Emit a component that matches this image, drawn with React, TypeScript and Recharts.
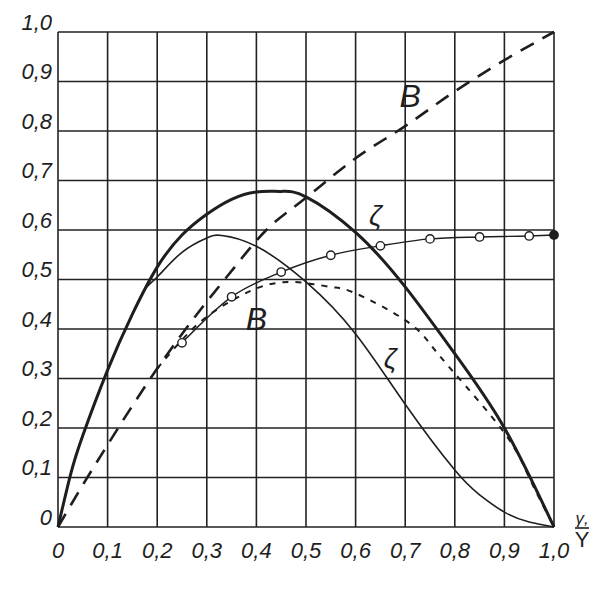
import React from 'react';
import {
    ComposedChart,
    Line,
    XAxis,
    YAxis,
    CartesianGrid,
    ReferenceDot,
} from 'recharts';

// x positions r/Y and values
const ticks = [0, 0.1, 0.2, 0.3, 0.4, 0.5, 0.6, 0.7, 0.8, 0.9, 1.0];

const thickX = [0, 0.025, 0.05, 0.1, 0.15, 0.2, 0.25, 0.3, 0.35, 0.4, 0.45, 0.5, 0.6, 0.7, 0.8, 0.9, 1.0];
const thickY = [0, 0.105, 0.185, 0.317, 0.43, 0.525, 0.59, 0.632, 0.662, 0.677, 0.678, 0.667, 0.595, 0.485, 0.35, 0.2, 0];

const thinX = [0, 0.025, 0.05, 0.1, 0.15, 0.175, 0.2, 0.25, 0.3, 0.33, 0.4, 0.5, 0.6, 0.7, 0.8, 0.85, 0.9, 0.95, 1.0];
const thinY = [0, 0.105, 0.185, 0.317, 0.43, 0.48, 0.505, 0.555, 0.584, 0.589, 0.567, 0.495, 0.39, 0.248, 0.115, 0.065, 0.03, 0.01, 0];

const bX = [0, 0.05, 0.1, 0.15, 0.2, 0.25, 0.34, 0.42, 0.5, 0.6, 0.7, 0.8, 0.9, 1.0];
const bY = [0, 0.085, 0.166, 0.245, 0.32, 0.39, 0.505, 0.6, 0.665, 0.745, 0.81, 0.88, 0.943, 1.0];

const bLowX = [0.2, 0.25, 0.3, 0.35, 0.4, 0.47, 0.55, 0.6, 0.7, 0.75, 0.8, 0.9, 0.95, 1.0];
const bLowY = [0.32, 0.378, 0.425, 0.457, 0.482, 0.495, 0.485, 0.472, 0.418, 0.37, 0.31, 0.19, 0.1, 0];

const zetaX = [0.25, 0.35, 0.45, 0.55, 0.65, 0.75, 0.85, 0.95, 1.0];
const zetaY = [0.372, 0.465, 0.515, 0.549, 0.568, 0.582, 0.586, 0.588, 0.59];

const toRows = (xs: number[], ys: number[]) => xs.map((x, i) => ({ x, y: ys[i] }));

const fmt = (v: number) => (v === 0 ? '0' : v.toFixed(1).replace('.', ','));

const INK = '#1e1e1e';
const FONT = '"Liberation Sans", Arial, sans-serif';

const YTick = (props: any) => {
    const { x, y, payload } = props;
    return (
        <text x={x} y={y - 10} textAnchor="end" dominantBaseline="central"
            fontFamily={FONT} fontStyle="italic" fontSize={22} fill={INK}>
            {fmt(payload.value)}
        </text>
    );
};

const XTick = (props: any) => {
    const { x, y, payload } = props;
    return (
        <text x={x} y={y + 23} textAnchor="middle" dominantBaseline="central"
            fontFamily={FONT} fontStyle="italic" fontSize={22} fill={INK}>
            {fmt(payload.value)}
        </text>
    );
};

const textAt = (label: string, size: number) => (props: any) => (
    <text x={props.cx} y={props.cy} textAnchor="middle" dominantBaseline="central"
        fontFamily={FONT} fontStyle="italic" fontSize={size} fill={INK}>
        {label}
    </text>
);

const axisName = (props: any) => (
    <g>
        <text x={props.cx + 28} y={props.cy - 3} textAnchor="middle" fontFamily={FONT}
            fontStyle="italic" fontSize={17} fill={INK}>γ,</text>
        <line x1={props.cx + 21} x2={props.cx + 35} y1={props.cy + 1} y2={props.cy + 1}
            stroke={INK} strokeWidth={1.6} />
        <text x={props.cx + 28} y={props.cy + 20} textAnchor="middle" fontFamily={FONT}
            fontSize={22} fill={INK}>Y</text>
    </g>
);

const zetaDot = (props: any) => {
    const last = props.index === zetaX.length - 1;
    return (
        <circle key={props.index} cx={props.cx} cy={props.cy} r={4.2}
            fill={last ? INK : '#fff'} stroke={INK} strokeWidth={1.4} />
    );
};

export default function App() {
    return (
        <div style={{ position: 'absolute', left: 0, top: 0, background: '#fff' }}>
            <ComposedChart width={608} height={590}
                margin={{ top: 32, right: 54, left: 8, bottom: 33 }}>
                <CartesianGrid stroke="#222" strokeWidth={1.6} />
                <XAxis type="number" dataKey="x" domain={[0, 1]} ticks={ticks}
                    axisLine={false} tickLine={false} tickSize={0} tickMargin={0}
                    height={30} tick={<XTick />} interval={0} />
                <YAxis type="number" domain={[0, 1]} ticks={ticks}
                    axisLine={false} tickLine={false} tickSize={0} tickMargin={6}
                    width={50} tick={<YTick />} interval={0} />

                <Line data={toRows(bX, bY)} dataKey="y" type="monotone" stroke={INK}
                    strokeWidth={2.6} strokeDasharray="15 10" dot={false} isAnimationActive={false} />
                <Line data={toRows(bLowX, bLowY)} dataKey="y" type="natural" stroke={INK}
                    strokeWidth={2} strokeDasharray="6 7" dot={false} isAnimationActive={false} />
                <Line data={toRows(thinX, thinY)} dataKey="y" type="natural" stroke={INK}
                    strokeWidth={1.6} dot={false} isAnimationActive={false} />
                <Line data={toRows(thickX, thickY)} dataKey="y" type="natural" stroke={INK}
                    strokeWidth={3} dot={false} isAnimationActive={false} />
                <Line data={toRows(zetaX, zetaY)} dataKey="y" type="monotone" stroke={INK}
                    strokeWidth={1.4} dot={zetaDot} isAnimationActive={false} />

                <ReferenceDot x={0.71} y={0.87} r={0} shape={textAt('B', 32)} ifOverflow="visible" />
                <ReferenceDot x={0.4} y={0.42} r={0} shape={textAt('B', 32)} ifOverflow="visible" />
                <ReferenceDot x={0.64} y={0.63} r={0} shape={textAt('ζ', 28)} ifOverflow="visible" />
                <ReferenceDot x={0.67} y={0.34} r={0} shape={textAt('ζ', 28)} ifOverflow="visible" />
                <ReferenceDot x={1} y={0} r={0} shape={axisName} ifOverflow="visible" />
            </ComposedChart>
        </div>
    );
}
